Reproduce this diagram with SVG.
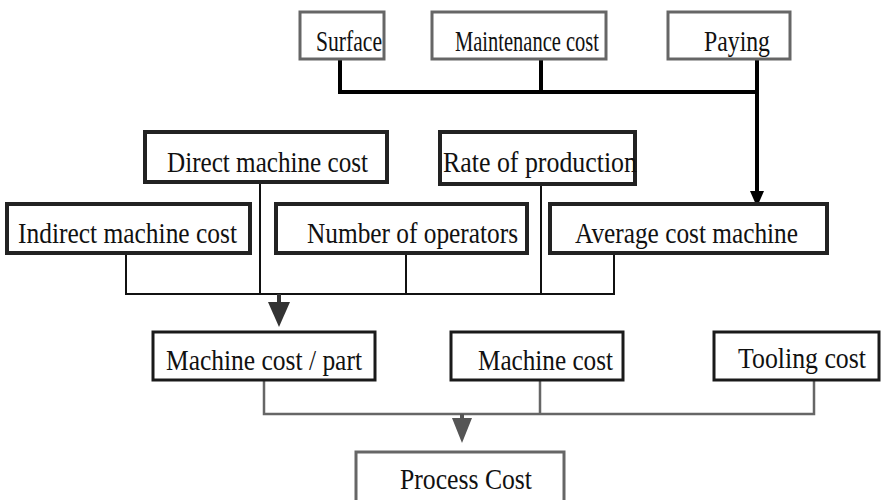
<svg xmlns="http://www.w3.org/2000/svg" width="885" height="500" viewBox="0 0 885 500">
  <defs>
    <style>
      text { font-family: "Liberation Serif", "Times New Roman", serif; font-size: 30px; fill: #111; }
      .box-top { fill: #fff; stroke: #666; stroke-width: 3; }
      .box-mid { fill: #fff; stroke: #222; stroke-width: 4; }
      .box-low { fill: #fff; stroke: #1a1a1a; stroke-width: 3; }
      .box-end { fill: #fff; stroke: #666; stroke-width: 3; }
      .wire-heavy { fill: none; stroke: #000; stroke-width: 4; }
      .wire-thin { fill: none; stroke: #111; stroke-width: 2; }
      .wire-grey { fill: none; stroke: #666; stroke-width: 2.5; }
    </style>
  </defs>

  <!-- connectors -->
  <g id="connectors">
    <!-- top inputs merge into the average machine cost -->
    <path class="wire-heavy" d="M340 56 V92 H757 M541 56 V92 M757 56 V194"/>
    <polygon points="750,191 764,191 757,207" fill="#000"/>
    <!-- middle row merges into machine cost per part -->
    <path class="wire-thin" d="M126 253 V294 H614 V253 M260 182 V294 M406 253 V294 M541 178 V294"/>
    <rect x="277" y="294" width="4" height="9" fill="#333"/>
    <polygon points="268,302 290,302 279,327" fill="#333"/>
    <!-- lower row merges into process cost -->
    <path class="wire-grey" d="M264 380 V414 H814 V380 M540 380 V414"/>
    <rect x="460" y="414" width="4" height="5" fill="#555"/>
    <polygon points="452,418 472,418 462,443" fill="#555"/>
  </g>

  <g id="surface">
    <rect class="box-top" x="300" y="12" width="84" height="47"/>
    <text x="316" y="51" textLength="66" lengthAdjust="spacingAndGlyphs">Surface</text>
  </g>
  <g id="maintenance-cost">
    <rect class="box-top" x="432" y="12" width="174" height="47"/>
    <text x="455" y="51" textLength="144" lengthAdjust="spacingAndGlyphs">Maintenance cost</text>
  </g>
  <g id="paying">
    <rect class="box-top" x="668" y="12" width="122" height="47"/>
    <text x="704" y="51" textLength="66" lengthAdjust="spacingAndGlyphs">Paying</text>
  </g>

  <g id="direct-machine-cost">
    <rect class="box-mid" x="145" y="132" width="242" height="50"/>
    <text x="167" y="172" textLength="201" lengthAdjust="spacingAndGlyphs">Direct machine cost</text>
  </g>
  <g id="rate-of-production">
    <rect class="box-mid" x="440" y="132" width="195" height="52"/>
    <text x="443" y="172" textLength="194" lengthAdjust="spacingAndGlyphs">Rate of production</text>
  </g>

  <g id="indirect-machine-cost">
    <rect class="box-mid" x="7" y="204" width="243" height="49"/>
    <text x="18" y="243" textLength="219" lengthAdjust="spacingAndGlyphs">Indirect machine cost</text>
  </g>
  <g id="number-of-operators">
    <rect class="box-mid" x="276" y="204" width="251" height="49"/>
    <text x="307" y="243" textLength="211" lengthAdjust="spacingAndGlyphs">Number of operators</text>
  </g>
  <g id="average-cost-machine">
    <rect class="box-mid" x="550" y="204" width="277" height="49"/>
    <text x="575" y="243" textLength="223" lengthAdjust="spacingAndGlyphs">Average cost machine</text>
  </g>

  <g id="machine-cost-part">
    <rect class="box-low" x="153" y="332" width="222" height="48"/>
    <text x="166" y="370" textLength="196" lengthAdjust="spacingAndGlyphs">Machine cost / part</text>
  </g>
  <g id="machine-cost">
    <rect class="box-low" x="451" y="332" width="172" height="48"/>
    <text x="478" y="370" textLength="135" lengthAdjust="spacingAndGlyphs">Machine cost</text>
  </g>
  <g id="tooling-cost">
    <rect class="box-low" x="714" y="332" width="165" height="48"/>
    <text x="738" y="368" textLength="128" lengthAdjust="spacingAndGlyphs">Tooling cost</text>
  </g>

  <g id="process-cost">
    <rect class="box-end" x="356" y="452" width="208" height="50"/>
    <text x="400" y="489" textLength="132" lengthAdjust="spacingAndGlyphs">Process Cost</text>
  </g>
</svg>
